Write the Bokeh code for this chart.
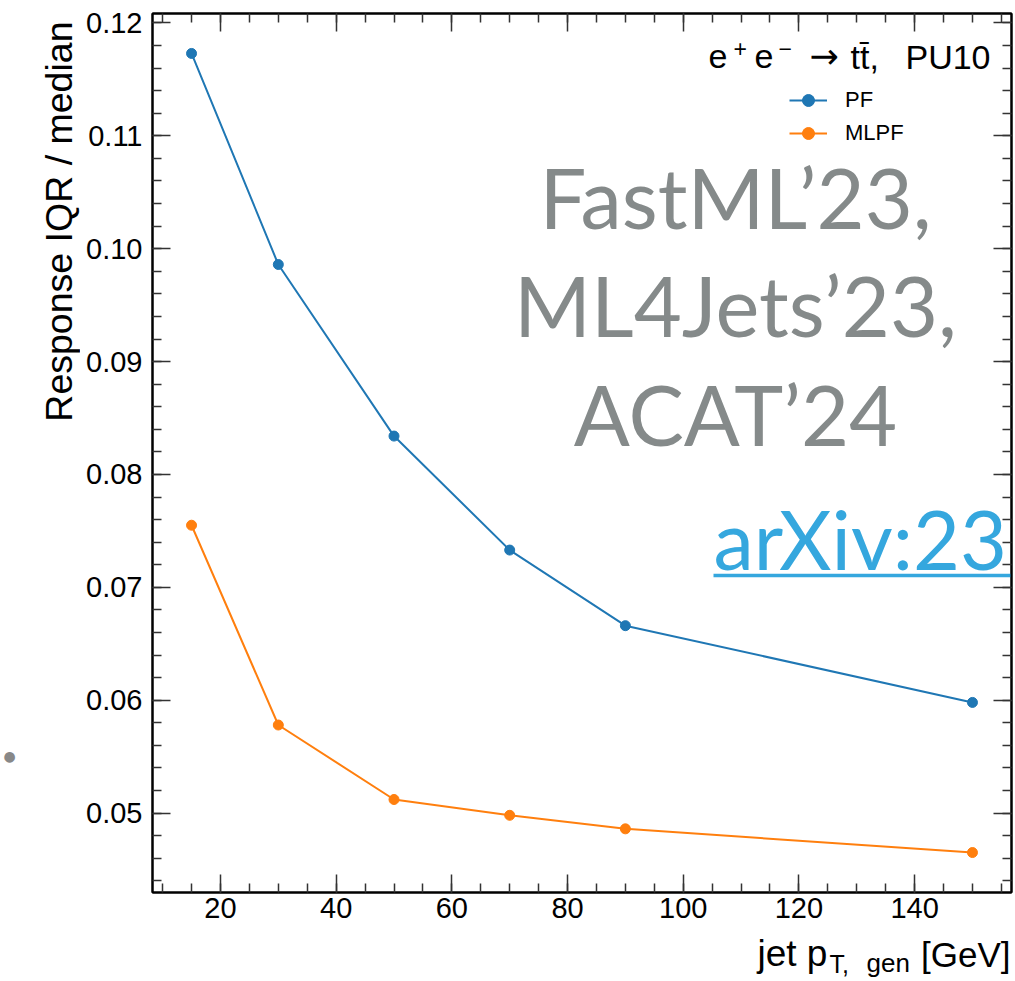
import math
from bokeh.plotting import figure
from bokeh.layouts import row, column
from bokeh.models import (Range1d, LinearAxis, FixedTicker, PrintfTickFormatter,
                          Legend, LegendItem, Label)
from bokeh.embed import file_html
from bokeh.resources import INLINE

# ---- data ----
pt_gen = [15, 30, 50, 70, 90, 150]
iqr_pf = [0.1173, 0.0986, 0.0834, 0.0733, 0.0666, 0.0598]
iqr_mlpf = [0.0755, 0.0578, 0.0512, 0.0498, 0.0486, 0.0465]
series_names = ["PF", "MLPF"]
series_colors = ["#1f77b4", "#ff7f0e"]
x_major = [20, 40, 60, 80, 100, 120, 140]
x_minor = [10 + 5 * i for i in range(30)]
y_major = [0.05, 0.06, 0.07, 0.08, 0.09, 0.10, 0.11, 0.12]
y_minor = [round(0.044 + 0.002 * i, 3) for i in range(39)]
watermark_lines = ["FastML\u201923,", "ML4Jets\u201923,", "ACAT\u201924"]
arxiv_text = "arXiv:23"
y_title = "Response IQR / median"

# ---- layout (absolute canvas pixels) ----
W, H = 1015, 981
LS = 80              # width of left strip (y title)
L, R, T, B = 152, 1011, 13, 892
PB = 38              # bottom border of the main figure (tick labels)
BS = H - B - PB      # height of bottom strip (x title)
X0, X1 = 8.25, 156.75
Y0, Y1 = 0.04296, 0.12084

SANS = "Liberation Sans"
WM = "Lato"
K_SANS = 0.35   # baseline compensation (fraction of font size)
K_WM = 0.40


def dx(px):
    return X0 + (px - L) / (R - L) * (X1 - X0)


def dy(py):
    return Y1 - (py - T) / (B - T) * (Y1 - Y0)


def strip(w, h, xr, y0):
    f = figure(width=w, height=h, x_range=Range1d(*xr), y_range=Range1d(y0 + h, y0),
               output_backend="svg", toolbar_location=None, x_axis_type=None,
               y_axis_type=None, min_border=0)
    f.grid.visible = False
    f.outline_line_color = None
    f.background_fill_color = "white"
    f.border_fill_color = "white"
    return f


p = figure(width=W - LS, height=B + PB, x_range=Range1d(X0, X1), y_range=Range1d(Y0, Y1),
           output_backend="svg", toolbar_location=None,
           min_border_left=L - LS, min_border_right=W - R, min_border_top=T,
           min_border_bottom=PB)
p.grid.visible = False
p.outline_line_color = "black"
p.outline_line_width = 2
p.background_fill_color = "white"
p.border_fill_color = "white"

for ax in (p.xaxis[0], p.yaxis[0]):
    ax.major_tick_in = 18
    ax.major_tick_out = 0
    ax.minor_tick_in = 9
    ax.minor_tick_out = 0
    ax.axis_line_width = 2
    ax.axis_line_color = "black"
    ax.major_tick_line_width = 1.5
    ax.minor_tick_line_width = 1.5
    ax.major_tick_line_color = "#333333"
    ax.minor_tick_line_color = "#333333"
    ax.major_label_text_font = SANS
    ax.major_label_text_font_size = "29px"
    ax.major_label_text_color = "black"

p.xaxis[0].ticker = FixedTicker(ticks=x_major, minor_ticks=x_minor)
p.yaxis[0].ticker = FixedTicker(ticks=y_major, minor_ticks=y_minor)
p.yaxis[0].formatter = PrintfTickFormatter(format="%.2f")
p.xaxis[0].major_label_standoff = 5
p.yaxis[0].major_label_standoff = 10

for loc, tk in (("above", FixedTicker(ticks=x_major, minor_ticks=x_minor)),
                ("right", FixedTicker(ticks=y_major, minor_ticks=y_minor))):
    ax = LinearAxis(ticker=tk, major_label_text_font_size="0px",
                    major_label_text_color=None,
                    major_label_standoff=0, major_tick_in=18, major_tick_out=0,
                    minor_tick_in=9, minor_tick_out=0, axis_line_width=2,
                    major_tick_line_width=1.5, minor_tick_line_width=1.5,
                    major_tick_line_color="#333333", minor_tick_line_color="#333333")
    p.add_layout(ax, loc)

# ---- series ----
items = []
for name, ys, col in zip(series_names, [iqr_pf, iqr_mlpf], series_colors):
    ln = p.line(pt_gen, ys, line_color=col, line_width=2)
    sc = p.scatter(pt_gen, ys, size=10, fill_color=col, line_color=col)
    items.append(LegendItem(label=name, renderers=[ln, sc]))

legend = Legend(items=items, location=(637, 744), glyph_width=38, glyph_height=30,
                label_height=30, label_standoff=18, spacing=3, padding=0, margin=0,
                border_line_color=None, background_fill_alpha=0,
                label_text_font=SANS, label_text_font_size="22px",
                label_text_color="black")
p.add_layout(legend)


def plabel(fig, px, py, text, size, font=SANS, color="black", align="left", k=K_SANS,
           conv=True, **kw):
    yy = py - k * size
    x = dx(px) if conv else px
    y = dy(yy) if conv else yy
    fig.add_layout(Label(x=x, y=y, text=text, text_align=align, text_baseline="alphabetic",
                         text_font=font, text_font_size=f"{size}px", text_color=color, **kw))


# process label, built from pieces (superscripts)
plabel(p, 708, 68, "e", 34)
plabel(p, 733, 56, "+", 23)
plabel(p, 754, 68, "e", 34)
plabel(p, 778, 56, "\u2212", 23)
plabel(p, 809, 68, "\u2192", 35, font="DejaVu Sans")
plabel(p, 850, 68, "tt\u0304,", 34)
plabel(p, 990, 68, "PU10", 34, align="right")

# watermark
for txt, by in zip(watermark_lines, [230, 338, 447]):
    plabel(p, 735, by, txt, 83, font=WM, color="#858a8a", align="center", k=K_WM)

plabel(p, 713, 570, arxiv_text, 81, font=WM, color="#35a7de", k=K_WM)
p.segment(x0=[dx(713)], y0=[dy(575)], x1=[dx(1040)], y1=[dy(575)],
          line_color="#35a7de", line_width=3.5)

# ---- y title strip ----
ls = strip(LS, H, (0, LS), 0)
ls.add_layout(Label(x=58, y=21, text=y_title, angle=math.pi / 2, text_align="right",
                    text_baseline="middle", text_font=SANS, text_font_size="37.5px",
                    text_color="black"))
ls.add_layout(Label(x=9, y=755, text="\u25cf", text_align="center", text_baseline="middle",
                    text_font="DejaVu Sans", text_font_size="14px", text_color="#888888"))

# ---- x title strip (its frame is aligned with the main frame: L..R) ----
bs = strip(W - LS, BS, (L, R), B + PB)
plabel(bs, 757, 966, "jet p", 37, conv=False)
plabel(bs, 829, 972, "T,", 25, conv=False)
plabel(bs, 866, 972, "gen", 26, conv=False)
plabel(bs, 1010, 966, "[GeV]", 35, align="right", conv=False)

layout = row(ls, column(p, bs))
open("out.html", "w").write(file_html(layout, INLINE))
